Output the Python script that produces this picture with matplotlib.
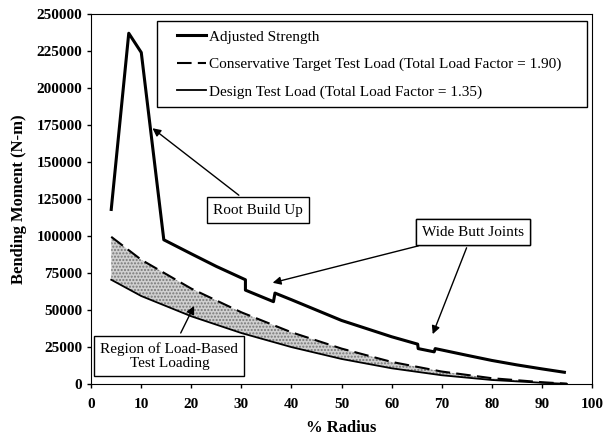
import numpy as np
import matplotlib.pyplot as plt
from matplotlib.patches import Rectangle

# % radius and bending moment (N-m)
strength_x = [4, 7.5, 10, 14.5, 20, 25, 30.8, 30.8, 36.4, 36.7, 40, 45, 50, 55, 60,
              65.2, 65.3, 68.5, 68.7, 75, 80, 85, 90, 94.5]
strength_y = [118000, 237000, 224000, 97500, 88000, 79500, 70500, 63500, 55700, 61500,
              57000, 50000, 43000, 37500, 32000, 27000, 24000, 21800, 24000, 19500,
              16000, 13000, 10300, 8000]

load_x = [4, 10, 20, 30, 40, 50, 60, 70, 80, 90, 95]
target_y = [99500, 84000, 64500, 48500, 35000, 24000, 15000, 8500, 4000, 1300, 300]
design_y = [70500, 59500, 45800, 34500, 25000, 17000, 10700, 6000, 2800, 900, 200]

xticks = list(range(0, 101, 10))
yticks = list(range(0, 250001, 25000))

plt.rcParams['font.family'] = ['Liberation Serif', 'DejaVu Serif']

fig = plt.figure(figsize=(6.04, 4.38), dpi=100)
ax = fig.add_axes([0.151, 0.123, 0.829, 0.845])

ax.fill_between(load_x, design_y, target_y, facecolor='#d0d0d0', edgecolor='#777777',
                hatch='.....', linewidth=0)
ax.plot(strength_x, strength_y, color='black', lw=2.2, label='Adjusted Strength')
ax.plot(load_x, target_y, color='black', lw=1.5, dashes=(7, 3),
        label='Conservative Target Test Load (Total Load Factor = 1.90)')
ax.plot(load_x, design_y, color='black', lw=1.3,
        label='Design Test Load (Total Load Factor = 1.35)')

ax.set_xlim(0, 100)
ax.set_ylim(0, 250000)
ax.set_xticks(xticks)
ax.set_yticks(yticks)
ax.tick_params(direction='out', length=3, width=1, labelsize=11)
ax.tick_params(axis='x', pad=7)
for lab in ax.get_xticklabels() + ax.get_yticklabels():
    lab.set_fontweight('bold')
ax.set_xlabel('% Radius', fontsize=12, fontweight='bold')
ax.set_ylabel('Bending Moment (N-m)', fontsize=12, fontweight='bold')
ax.xaxis.set_label_coords(0.5, -0.097)
ax.yaxis.set_label_coords(-0.128, 0.5)

# legend frame drawn separately so the padding can match
ax.add_patch(Rectangle((0.132, 0.749), 0.858, 0.232, transform=ax.transAxes,
                       facecolor='white', edgecolor='black', lw=1, zorder=4))
leg = ax.legend(loc='upper left', bbox_to_anchor=(0.172, 0.957), fontsize=11,
                frameon=False, handlelength=1.85, handletextpad=0.25,
                labelspacing=0.9, borderpad=0, borderaxespad=0)
leg.set_zorder(5)

box = dict(boxstyle='square,pad=0.4', facecolor='white', edgecolor='black', lw=1)
arrow = dict(arrowstyle='-|>', color='black', lw=1, mutation_scale=12)

ax.annotate('Root Build Up', xy=(11.8, 174000), xytext=(33.3, 117600), fontsize=11,
            ha='center', va='center', bbox=box, arrowprops=arrow)
ax.annotate('Wide Butt Joints', xy=(35.7, 68000), xytext=(76.2, 102700), fontsize=11,
            ha='center', va='center', bbox=box, arrowprops=arrow)
ax.annotate('Wide Butt Joints', xy=(68, 32000), xytext=(76.2, 102700), fontsize=11,
            ha='center', va='center', bbox=box, arrowprops=arrow)
ax.annotate('Region of Load-Based\nTest Loading', xy=(20.8, 54500), xytext=(15.6, 19000),
            fontsize=11, ha='center', va='center', bbox=dict(box, pad=0.3),
            arrowprops=arrow, linespacing=1.1)

fig.savefig('out.png', dpi=100)
